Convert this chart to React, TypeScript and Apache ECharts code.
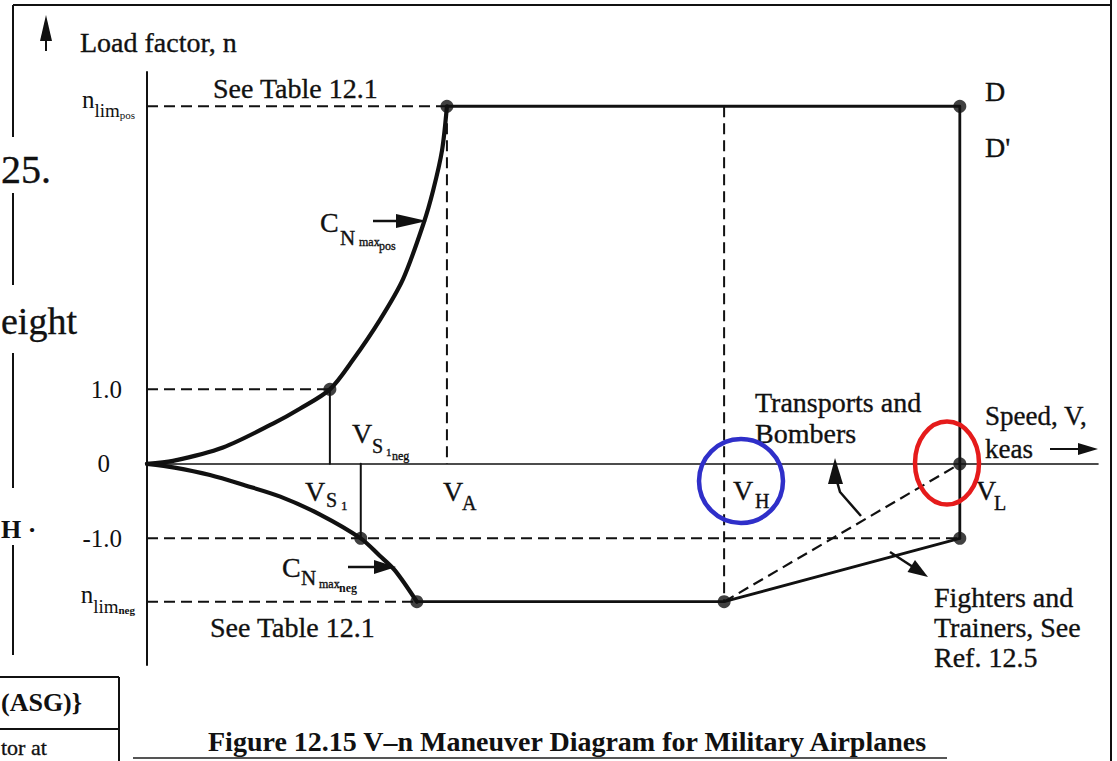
import React, { useEffect, useRef } from 'react';
import * as echarts from 'echarts';

const SERIF = '"Liberation Serif", "Times New Roman", Times, serif';
const INK = '#111111';

// ---- Speeds (schematic units, V_L = 100) ----
const V_UP = 22.5; // stall speed at n = +1.0 (vertical labelled V_S1neg)
const V_DOWN = 26.3; // stall speed at n = -1.0 (vertical labelled V_S1)
const V_NEG_CORNER = 33.2; // C_N max neg meets n_lim_neg
const V_A = 36.9;
const V_H = 71.0;
const V_L = 100;
const V_AXIS_END = 117;

// ---- Load factors ----
const N_LIM_POS = 4.8;
const N_LIM_NEG = -1.85;
const N_AXIS_MIN = -2.7;
const N_AXIS_MAX = 5.26;

// ---- Stall curves ----
const posStallV = [0, 3.2, 9.35, 15.5, 18.8, 22.5, 25.3, 28.7, 31.5, 34.0, 35.2, 36.3, 36.9];
const posStallN = [0, 0.04, 0.22, 0.54, 0.74, 1.0, 1.39, 1.94, 2.48, 3.22, 3.67, 4.21, 4.8];
const negStallV = [0, 3.4, 7.75, 12.1, 16.4, 21.3, 26.3, 28.6, 30.5, 33.2];
const negStallN = [0, -0.05, -0.15, -0.29, -0.44, -0.68, -1.0, -1.23, -1.43, -1.85];

// ---- Y tick labels ----
const yTickValues = [N_LIM_POS, 1, 0, -1, N_LIM_NEG];
const yTickLabels = [
  '{nP|n}{limP|lim}{subP|pos}',
  '{num|1.0}',
  '{zero|0}',
  '{num|-1.0}',
  '{nN|n}{limN|lim}{subN|neg}',
];

const zip = (xs: number[], ys: number[]) => xs.map((x, i) => [x, ys[i]]);

const upperBoundary = [[V_A, N_LIM_POS], [V_L, N_LIM_POS], [V_L, -1]];
const lowerBoundary = [[V_NEG_CORNER, N_LIM_NEG], [V_H, N_LIM_NEG], [V_L, -1]];
const transportsLine = [[V_H, N_LIM_NEG], [V_L, 0]];
const guideLines = [
  [[0, N_LIM_POS], [V_A, N_LIM_POS]],
  [[0, 1], [V_UP, 1]],
  [[0, -1], [V_L, -1]],
  [[0, N_LIM_NEG], [V_NEG_CORNER, N_LIM_NEG]],
  [[V_A, N_LIM_POS], [V_A, 0]],
  [[V_H, N_LIM_POS], [V_H, N_LIM_NEG]],
];
const stallVerticals = [
  [[V_UP, 1], [V_UP, 0]],
  [[V_DOWN, 0], [V_DOWN, -1]],
];
const keyPoints = [
  [V_A, N_LIM_POS], [V_L, N_LIM_POS], [V_UP, 1], [V_DOWN, -1],
  [V_NEG_CORNER, N_LIM_NEG], [V_H, N_LIM_NEG], [V_L, 0], [V_L, -1],
];

type Opt = { bold?: boolean; align?: string; color?: string };
const txt = (x: number, y: number, text: string, size: number, opt: Opt = {}) => ({
  type: 'text', x, y, z: 50, silent: true,
  style: {
    text, fontFamily: SERIF, fontSize: size, fontWeight: opt.bold ? 'bold' : 'normal',
    fill: opt.color || INK, align: opt.align || 'left', verticalAlign: 'middle',
    stroke: opt.bold ? undefined : INK, lineWidth: opt.bold ? 0 : 0.35,
  },
});
const seg = (x1: number, y1: number, x2: number, y2: number, w = 2, color = INK) => ({
  type: 'line', z: 40, silent: true, shape: { x1, y1, x2, y2 }, style: { stroke: color, lineWidth: w },
});
const tri = (pts: number[][]) => ({
  type: 'polygon', z: 40, silent: true, shape: { points: pts }, style: { fill: INK },
});

function buildGraphic() {
  return [
    // page frame of the scanned page
    seg(13, 5, 1111, 5, 2),
    seg(13, 5, 13, 137, 2),
    seg(13, 193, 13, 285, 2),
    seg(13, 353, 13, 488, 2),
    seg(13, 545, 13, 655, 2),
    seg(1111, 0, 1111, 761, 2),
    seg(133, 758, 947, 758, 2, '#555'),
    seg(0, 677, 119, 677, 2),
    seg(0, 729, 119, 729, 2),
    seg(119, 677, 119, 761, 2),
    txt(1, 169, '25.', 40),
    txt(1, 321, 'eight', 38),
    txt(1, 529, 'H ·', 26, { bold: true }),
    txt(1, 702, '(ASG)}', 26, { bold: true }),
    txt(1, 747, 'tor at', 22),

    // axis titles
    tri([[46, 15], [40, 41], [52, 41]]),
    seg(46, 36, 46, 51, 2),
    txt(80, 42, 'Load factor, n', 28),
    txt(985, 416, 'Speed, V,', 27),
    txt(985, 449, 'keas', 27),
    seg(1050, 449, 1084, 449, 2),
    tri([[1078, 443], [1098, 449], [1078, 455]]),

    txt(213, 88, 'See Table 12.1', 28),
    txt(210, 627, 'See Table 12.1', 28),
    txt(985, 91, 'D', 28),
    txt(985, 147, "D'", 28),

    // C_N max pos
    txt(320, 222, 'C', 28),
    txt(340, 238, 'N', 21),
    txt(359, 242, 'max', 12),
    txt(379, 246, 'pos', 12),
    seg(373, 221, 400, 221, 2.5),
    tri([[396, 214], [427, 221], [396, 228]]),

    // C_N max neg
    txt(282, 567, 'C', 28),
    txt(301, 578, 'N', 21),
    txt(319, 584, 'max', 12),
    txt(339, 588, 'neg', 12, { bold: true }),
    seg(348, 567, 378, 567, 2.5),
    tri([[374, 560], [396, 567], [374, 574]]),

    // speed labels
    txt(352, 433, 'V', 28),
    txt(372, 446, 'S', 20),
    txt(386, 452, '1', 11),
    txt(392, 456, 'neg', 12),
    txt(305, 491, 'V', 28),
    txt(326, 500, 'S', 20),
    txt(341, 505, '1', 13),
    txt(443, 491, 'V', 28),
    txt(462, 503, 'A', 20),
    txt(733, 490, 'V', 28),
    txt(755, 501, 'H', 20),
    txt(976, 490, 'V', 28),
    txt(994, 503, 'L', 20),

    // Transports and Bombers
    txt(755, 402, 'Transports and', 28),
    txt(755, 433, 'Bombers', 28),
    { type: 'polyline', z: 40, silent: true, shape: { points: [[861, 516], [840, 492], [836, 478]] }, style: { stroke: INK, lineWidth: 2.5, fill: null } },
    tri([[828, 484], [835, 458], [843, 484]]),

    // Fighters and Trainers
    txt(934, 597, 'Fighters and', 28),
    txt(934, 627, 'Trainers, See', 28),
    txt(934, 657, 'Ref. 12.5', 28),
    seg(890, 552, 913, 567, 2.5),
    tri([[928, 577], [907.5, 572], [915, 560]]),

    // caption
    txt(208, 741, 'Figure 12.15 V–n Maneuver Diagram for Military Airplanes', 28, { bold: true }),

    // highlight circles
    { type: 'ellipse', z: 60, silent: true, shape: { cx: 741, cy: 481, rx: 42, ry: 42 }, style: { stroke: '#2f2fc9', lineWidth: 4.5, fill: 'none' } },
    { type: 'ellipse', z: 60, silent: true, shape: { cx: 947, cy: 463, rx: 32, ry: 41.5 }, style: { stroke: '#e51b1b', lineWidth: 4.5, fill: 'none' } },
  ];
}

const solid = (data: number[][], width: number, z = 3, smooth: number | boolean = false) => ({
  type: 'line', data, symbol: 'none', silent: true, z, smooth,
  lineStyle: { color: INK, width, type: 'solid', cap: 'round', join: 'round' }, animation: false,
});
const dashed = (data: number[][], width = 2) => ({
  type: 'line', data, symbol: 'none', silent: true, z: 2,
  lineStyle: { color: INK, width, type: [11, 6] }, animation: false,
});

export default function App() {
  const ref = useRef<HTMLDivElement>(null);
  useEffect(() => {
    if (!ref.current) return;
    const chart = echarts.init(ref.current, null, { renderer: 'svg' });
    const labelStyle = (size: number, padding: number[], bold = false) => ({
      fontFamily: SERIF, fontSize: size, color: INK, padding, verticalAlign: 'middle',
      fontWeight: bold ? 'bold' : 'normal',
    });
    chart.setOption({
      animation: false,
      backgroundColor: '#ffffff',
      grid: { left: 147, top: 72, width: 951, height: 593 },
      xAxis: {
        type: 'value', min: 0, max: V_AXIS_END,
        axisLine: { show: true, onZero: true, lineStyle: { color: INK, width: 1.6 } },
        axisTick: { show: false }, axisLabel: { show: false }, splitLine: { show: false },
      },
      yAxis: {
        type: 'value', min: N_AXIS_MIN, max: N_AXIS_MAX,
        axisLine: { show: true, onZero: false, lineStyle: { color: INK, width: 2 } },
        axisTick: { show: false }, splitLine: { show: false },
        axisLabel: {
          show: true, margin: 12, customValues: yTickValues,
          formatter: (v: number) => {
            const i = yTickValues.findIndex((t) => Math.abs(t - v) < 1e-6);
            return i >= 0 ? yTickLabels[i] : '';
          },
          rich: {
            nP: labelStyle(25, [0, 0, 13, 0]),
            limP: labelStyle(19, [9, 0, 0, 0]),
            subP: labelStyle(11, [17, 0, 0, 0]),
            nN: labelStyle(25, [0, 0, 14, 0]),
            limN: labelStyle(19, [10, 0, 0, 0]),
            subN: labelStyle(11, [16, 0, 0, 0], true),
            num: labelStyle(25, [0, 13, 0, 0]),
            zero: labelStyle(25, [0, 25, 0, 0]),
          },
        },
      },
      series: [
        ...guideLines.map((d) => dashed(d)),
        dashed(transportsLine, 2.2),
        ...stallVerticals.map((d) => solid(d, 2, 3)),
        solid(upperBoundary, 2.8, 3),
        solid(lowerBoundary, 2.8, 3),
        solid(zip(posStallV, posStallN), 4.2, 4, 0.3),
        solid(zip(negStallV, negStallN), 4.2, 4, 0.3),
        {
          type: 'scatter', data: keyPoints, symbol: 'circle', symbolSize: 13, silent: true, z: 6,
          itemStyle: { color: INK }, animation: false,
        },
      ],
      graphic: buildGraphic(),
    });
    return () => chart.dispose();
  }, []);
  return (
    <div
      ref={ref}
      style={{ position: 'fixed', left: 0, top: 0, width: 1117, height: 761, background: '#fff' }}
    />
  );
}
